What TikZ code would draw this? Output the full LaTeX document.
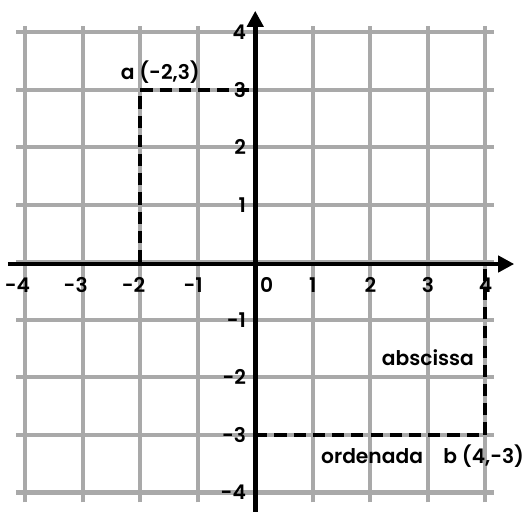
\documentclass[tikz,border=0pt]{standalone}
\usepackage{fontspec}
\setmainfont{Poppins}[BoldFont={Poppins SemiBold}]
\usepackage{xcolor}
\usepackage{tikz}
\usetikzlibrary{arrows.meta,positioning,calc}
\definecolor{gridgray}{HTML}{A9A9A9}
\tikzset{
  gridline/.style={draw=gridgray, line width=2pt},
  axisline/.style={draw=black, line width=2.3pt, -{Triangle[length=8pt,width=8pt]}},
  projline/.style={draw=black, line width=2pt, dash pattern=on 6pt off 3.5pt},
  ticklbl/.style={font=\bfseries, inner sep=1pt},
  txtlbl/.style={font=\bfseries, inner sep=1pt},
}

\begin{document}
\begin{tikzpicture}[font=\bfseries, >=Stealth]
    \useasboundingbox (-4.435,-4.33) rectangle (4.635,4.557);
    % grid
    \foreach \k in {-4,...,4} {
      \draw[gridline] (-4.15,\k) -- (4.15,\k);
      \draw[gridline] (\k,-4.17) -- (\k,4.1);
    }
    % points
    \coordinate (a) at (-2,3);
    \coordinate (b) at (4,-3);
    \coordinate (ax) at (-2,0);
    \coordinate (ay) at (0,3);
    \coordinate (bx) at (4,0);
    \coordinate (by) at (0,-3);
    \draw[projline] (ax) -- (a) -- (ay);
    \draw[projline] (by) -- (b) -- (bx);
    % axes
    \coordinate (xstart) at (-4.3,-0.03);
    \coordinate (xend) at (4.5,-0.03);
    \coordinate (ystart) at (0,-4.4);
    \coordinate (yend) at (0,4.37);
    \draw[axisline] (xstart) -- (xend);
    \draw[axisline] (ystart) -- (yend);
    % tick labels
    \foreach \x in {-4,...,-1}
      \node[ticklbl, anchor=east] (xl\x) at (\x+0.13,-0.4) {\x};
    \foreach \x in {1,...,4}
      \node[ticklbl] (xl\x) at (\x,-0.4) {\x};
    \node[ticklbl] (xl0) at (0.2,-0.4) {0};
    \foreach \y in {-4,...,-1,1,2,3,4}
      \node[ticklbl, anchor=east] (yl\y) at (-0.12,\y) {\y};
    % labels
    \node[txtlbl] (alabel) at (-1.65,3.3) {a (-2,3)};
    \node[txtlbl] (blabel) at (3.97,-3.36) {b (4,-3)};
    \node[txtlbl] (absc) at (3.0,-1.65) {abscissa};
    \node[txtlbl] (orden) at (2.03,-3.36) {ordenada};
\end{tikzpicture}
\end{document}
